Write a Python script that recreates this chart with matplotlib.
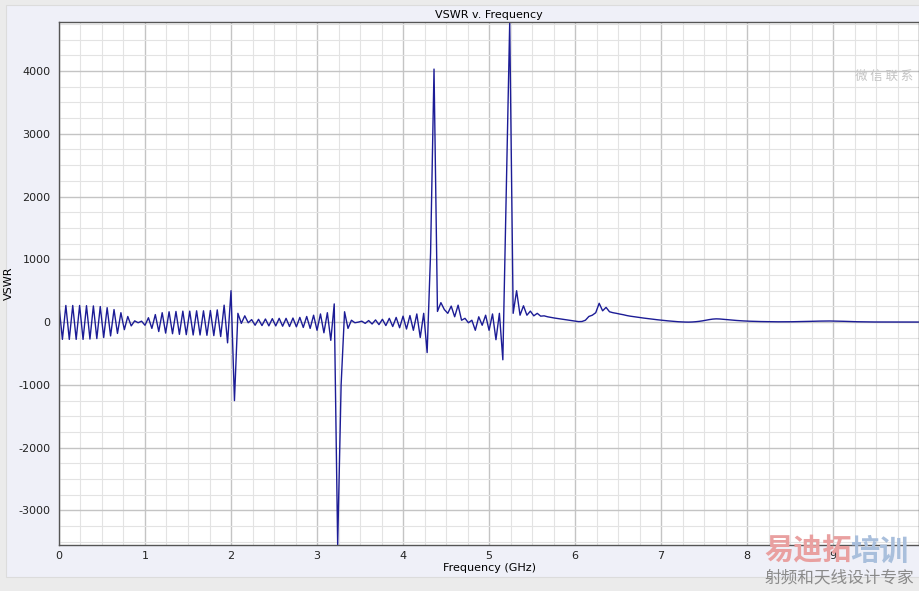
#!/usr/bin/env python3
# -*- coding: utf-8 -*-

import matplotlib
matplotlib.use("Agg")
import matplotlib.pyplot as plt
from matplotlib.patches import Rectangle
from matplotlib.ticker import MultipleLocator
import numpy as np

# sweep: 0 -> 10 GHz, 0.04 GHz step (251 points)
freq = np.linspace(0.0, 10.0, 251)

# VSWR values, 10 points per row (0.4 GHz)
vswr = [
    265, -275, 265, -275, 265, -275, 265, -275, 262, -270,      # 0.00
    258, -262, 248, -245, 230, -220, 200, -180, 150, -120,      # 0.40
    90, -60, 20, -10, 15, -50, 70, -100, 120, -150,             # 0.80
    150, -175, 165, -185, 170, -195, 175, -200, 175, -205,      # 1.20
    180, -205, 180, -210, 185, -215, 195, -230, 270, -330,      # 1.60
    500, -1250, 140, -20, 100, -10, 40, -50, 45, -55,           # 2.00
    50, -60, 55, -60, 60, -65, 60, -70, 65, -75,                # 2.40
    75, -85, 90, -100, 110, -130, 130, -170, 150, -290,         # 2.80
    290, -3550, -1000, 165, -100, 30, -10, 0, 15, -20,          # 3.20
    25, -30, 35, -40, 45, -55, 60, -70, 75, -90,                # 3.60
    95, -110, 105, -130, 130, -245, 140, -485, 1100, 4030,      # 4.00
    170, 310, 200, 140, 255, 85, 270, 30, 60, -10,              # 4.40
    30, -130, 85, -50, 110, -130, 130, -280, 140, -600,         # 4.80
    2100, 4780, 140, 500, 110, 260, 110, 175, 100, 140,         # 5.20
    95, 100, 85, 75, 65, 57, 48, 40, 32, 24,                    # 5.60
    16, 8, 10, 30, 90, 110, 150, 300, 180, 235,                 # 6.00
    165, 150, 140, 128, 118, 105, 95, 87, 80, 72,               # 6.40
    64, 57, 50, 43, 37, 31, 25, 20, 15, 10,                     # 6.80
    6, 3, 1, 0, 2, 6, 12, 20, 30, 40,                           # 7.20
    48, 52, 50, 45, 40, 35, 30, 26, 22, 19,                     # 7.60
    16, 14, 12, 10, 9, 8, 7, 6, 6, 5,                           # 8.00
    5, 5, 5, 6, 7, 8, 9, 10, 12, 13,                            # 8.40
    15, 16, 17, 18, 18, 17, 16, 15, 13, 11,                     # 8.80
    9, 7, 6, 5, 4, 3, 2, 2, 2, 1,                               # 9.20
    1, 1, 1, 1, 1, 1, 1, 1, 1, 1,                               # 9.60
    1,                                                          # 10.00
]

title = "VSWR v. Frequency"
xlabel = "Frequency (GHz)"
ylabel = "VSWR"
xticks = list(range(0, 10))
yticks = list(range(-3000, 5000, 1000))

plt.rcParams['axes.unicode_minus'] = False
plt.rcParams['font.family'] = ['DejaVu Sans', 'Noto Sans CJK SC']

fig = plt.figure(figsize=(9.2, 5.91), dpi=100)
fig.patch.set_facecolor('#ebebeb')
# lavender chart panel, behind the axes
fig.patches.append(Rectangle((6 / 920, 14 / 591), 1.0, 572 / 591,
                             transform=fig.transFigure, facecolor='#eff0f8',
                             edgecolor='#dcdcdc', linewidth=0.8, zorder=-5))

ax = fig.add_axes([0.0641, 0.0778, 0.935, 0.885])
ax.set_zorder(2)
ax.set_facecolor('white')

ax.plot(freq, vswr, color='#1c1c96', linewidth=1.0)

ax.set_xlim(0, 10)
ax.set_ylim(-3550, 4780)
ax.set_xticks(xticks)
ax.set_yticks(yticks)
ax.xaxis.set_minor_locator(MultipleLocator(0.25))
ax.yaxis.set_minor_locator(MultipleLocator(250))
ax.grid(which='major', color='#c4c4c4', linewidth=1.0)
ax.grid(which='minor', color='#e3e3e3', linewidth=0.8)
ax.set_axisbelow(True)
ax.tick_params(which='both', length=0, labelsize=8, colors='#222222')
ax.tick_params(axis='x', pad=4)
ax.tick_params(axis='y', pad=6)
for s in ax.spines.values():
    s.set_color('#555555')
    s.set_linewidth(1.0)

ax.set_title(title, fontsize=8, pad=3)
ax.set_xlabel(xlabel, fontsize=8, labelpad=2)
ax.set_ylabel(ylabel, fontsize=8)
ax.yaxis.set_label_coords(-0.052, 0.5)

# watermark texts seen on the screenshot
fig.text(0.961, 0.870, "微 信 联 系", fontsize=9, color='#c4c4c4', zorder=3,
         ha='center', va='center', family=['Noto Sans CJK SC'])
fig.text(0.878, 0.068, "易迪拓", fontsize=21, color='#e9a0a0', fontweight='bold',
         zorder=3, ha='center', va='center', family=['Noto Sans CJK SC'])
fig.text(0.956, 0.068, "培训", fontsize=21, color='#a9bfdc', fontweight='bold',
         zorder=3, ha='center', va='center', family=['Noto Sans CJK SC'])
fig.text(0.912, 0.022, "射频和天线设计专家", fontsize=12, color='#8a8a8a',
         zorder=3, ha='center', va='center', family=['Noto Sans CJK SC'])

fig.savefig("out.png", dpi=100, facecolor=fig.get_facecolor())
